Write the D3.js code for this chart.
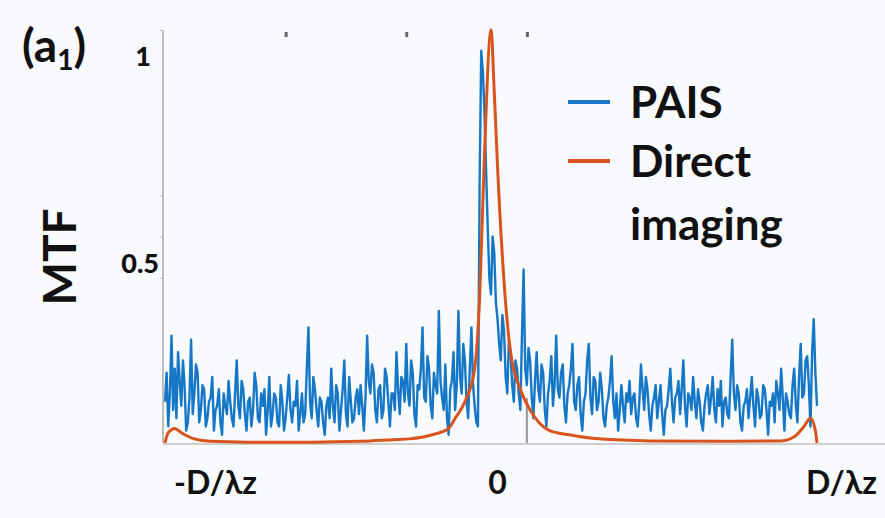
<!DOCTYPE html>
<html>
<head>
<meta charset="utf-8">
<script src="https://cdn.jsdelivr.net/npm/d3@7"></script>
<style>
    body { margin: 0; background: #f8fafd; }
    #floor { width: 885px; height: 518px; }
    text { font-family: Lato, "Open Sans", sans-serif; font-weight: 700; fill: #111; }
</style>
</head>
<body>
<div id="floor"></div>
<script>
// 横轴是采样序号 0..400，中心 200 对应频率 0
let tickIdx = [0, 200, 400];
let tickText = ["-D/\u03bbz", "0", "D/\u03bbz"];
let topTicks = [74, 148, 222];
let yTickVals = [0.4, 0.5, 0.6, 1];
let seriesNames = ["PAIS", "Direct imaging"];

// PAIS (蓝色) 每个采样点的 MTF
let pais = [
    0.10, 0.17, 0.04, 0.12, 0.26, 0.08, 0.18, 0.06, 0.22, 0.15, 0.09, 0.20, 0.14, 0.03, 0.05, 0.11, 0.25, 0.07, 0.12, 0.19,
    0.17, 0.05, 0.08, 0.14, 0.13, 0.04, 0.06, 0.10, 0.11, 0.16, 0.03, 0.08, 0.09, 0.13, 0.05, 0.02, 0.12, 0.09, 0.07, 0.15,
    0.10, 0.06, 0.04, 0.12, 0.20, 0.09, 0.06, 0.15, 0.13, 0.07, 0.03, 0.10, 0.11, 0.04, 0.08, 0.17, 0.14, 0.06, 0.05, 0.12,
    0.09, 0.13, 0.02, 0.08, 0.16, 0.04, 0.07, 0.12, 0.11, 0.05, 0.04, 0.14, 0.10, 0.03, 0.06, 0.11, 0.165, 0.08, 0.05, 0.10,
    0.09, 0.15, 0.03, 0.07, 0.12, 0.05, 0.07, 0.18, 0.28, 0.10, 0.06, 0.16, 0.13, 0.08, 0.04, 0.11, 0.10, 0.05, 0.02, 0.09,
    0.11, 0.06, 0.18, 0.09, 0.05, 0.14, 0.12, 0.03, 0.08, 0.13, 0.20, 0.07, 0.04, 0.16, 0.10, 0.05, 0.06, 0.11, 0.13, 0.07,
    0.14, 0.09, 0.03, 0.11, 0.26, 0.15, 0.12, 0.19, 0.17, 0.08, 0.05, 0.13, 0.14, 0.06, 0.08, 0.18, 0.16, 0.10, 0.04, 0.12,
    0.12, 0.08, 0.22, 0.13, 0.07, 0.16, 0.15, 0.10, 0.24, 0.12, 0.09, 0.20, 0.17, 0.07, 0.04, 0.14, 0.13, 0.18, 0.28, 0.11,
    0.10, 0.21, 0.18, 0.09, 0.06, 0.17, 0.14, 0.12, 0.32, 0.15, 0.11, 0.08, 0.19, 0.06, 0.02, 0.13, 0.15, 0.22, 0.08, 0.14,
    0.32, 0.16, 0.12, 0.24, 0.20, 0.10, 0.06, 0.18, 0.28, 0.14, 0.09, 0.05, 0.04, 0.62, 0.95, 0.90, 0.80, 0.66, 0.52, 0.40,
    0.36, 0.50, 0.46, 0.34, 0.30, 0.24, 0.20, 0.31, 0.27, 0.16, 0.12, 0.25, 0.22, 0.14, 0.10, 0.20, 0.18, 0.12, 0.08, 0.26,
    0.42, 0.18, 0.14, 0.23, 0.20, 0.11, 0.06, 0.15, 0.22, 0.13, 0.10, 0.19, 0.17, 0.08, 0.04, 0.12, 0.15, 0.21, 0.09, 0.14,
    0.26, 0.13, 0.11, 0.17, 0.19, 0.09, 0.05, 0.12, 0.14, 0.18, 0.24, 0.10, 0.08, 0.14, 0.16, 0.07, 0.03, 0.10, 0.12, 0.20,
    0.24, 0.11, 0.07, 0.16, 0.15, 0.08, 0.10, 0.17, 0.13, 0.06, 0.04, 0.09, 0.11, 0.15, 0.21, 0.10, 0.06, 0.12, 0.03, 0.08,
    0.14, 0.09, 0.05, 0.12, 0.10, 0.15, 0.07, 0.11, 0.12, 0.06, 0.04, 0.10, 0.19, 0.13, 0.08, 0.16, 0.13, 0.07, 0.03, 0.09,
    0.11, 0.14, 0.06, 0.10, 0.14, 0.07, 0.02, 0.08, 0.09, 0.13, 0.18, 0.10, 0.05, 0.11, 0.12, 0.15, 0.07, 0.13, 0.20, 0.09,
    0.04, 0.12, 0.11, 0.08, 0.16, 0.10, 0.06, 0.13, 0.10, 0.05, 0.03, 0.09, 0.12, 0.14, 0.07, 0.11, 0.16, 0.08, 0.05, 0.13,
    0.09, 0.15, 0.04, 0.10, 0.11, 0.07, 0.06, 0.16, 0.25, 0.12, 0.08, 0.14, 0.12, 0.05, 0.03, 0.09, 0.10, 0.13, 0.06, 0.11,
    0.16, 0.09, 0.04, 0.13, 0.11, 0.06, 0.07, 0.14, 0.13, 0.08, 0.02, 0.10, 0.09, 0.12, 0.05, 0.15, 0.12, 0.08, 0.18, 0.11,
    0.03, 0.12, 0.10, 0.07, 0.06, 0.14, 0.18, 0.09, 0.05, 0.16, 0.24, 0.11, 0.12, 0.20, 0.21, 0.14, 0.04, 0.22, 0.30, 0.17,
    0.09
];

// Direct imaging (橙色)，采样点较稀
let directIdx = [0, 2, 6, 10, 18, 28, 50, 90, 120, 140, 150, 164, 174, 178, 184, 190, 193, 196, 200,
    202, 204, 208, 212, 218, 224, 236, 248, 266, 298, 340, 378, 386, 392, 396, 399, 400];
let directVal = [0.0, 0.025, 0.035, 0.025, 0.01, 0.004, 0.002, 0.002, 0.004, 0.008, 0.01, 0.02, 0.035, 0.06, 0.10, 0.18, 0.35, 0.70, 1.0,
    0.85, 0.67, 0.39, 0.22, 0.13, 0.08, 0.03, 0.02, 0.01, 0.005, 0.004, 0.005, 0.015, 0.04, 0.06, 0.03, 0.0];

let width = 885;
let height = 518;
let colorScale = {"PAIS": "#1577c6", "Direct imaging": "#d9541c"};

let svg = d3.select("#floor").append("svg")
    .attr("width", width)
    .attr("height", height);

let x = d3.scaleLinear().domain([0, 400]).range([165, 817]);
let y = d3.scaleLinear().domain([0, 1]).range([443, 30]);

// 坐标轴
function drawAxes() {
    // 底部灰线
    svg.append("line")
        .attr("x1", 163).attr("x2", 885)
        .attr("y1", y(0) + 1).attr("y2", y(0) + 1)
        .attr("stroke", "#cfcfcf").attr("stroke-width", 2);

    let yAxis = svg.append("g")
        .attr("transform", "translate(163,0)")
        .call(d3.axisLeft(y).tickValues(yTickVals).tickSize(3)
            .tickFormat(d => (d === 0.5 || d === 1) ? d3.format("")(d) : ""));
    yAxis.select(".domain").attr("stroke", "#bdbdbd").attr("stroke-width", 2)
        .attr("d", "M0," + y(0) + "V" + y(1));
    yAxis.selectAll(".tick line").attr("stroke", "#bbb");
    yAxis.selectAll(".tick text")
        .style("font-size", "27px")
        .style("font-weight", 900)
        .attr("x", d => d === 1 ? -12 : -4)
        .attr("dy", d => d === 1 ? "1.3em" : "1.35em");

    let xAxis = svg.append("g")
        .attr("transform", "translate(0," + y(0) + ")")
        .call(d3.axisBottom(x).tickValues(tickIdx).tickSize(0)
            .tickFormat((d, i) => tickText[i]));
    xAxis.select(".domain").remove();
    xAxis.selectAll(".tick text")
        .style("font-size", "32px")
        .attr("y", 28)
        .attr("dy", "0.71em")
        .attr("dx", (d, i) => [50, 6, 24][i]);

    // 上方的小刻度点
    let topAxis = svg.append("g")
        .attr("transform", "translate(0,32)")
        .call(d3.axisBottom(x).tickValues(topTicks).tickSize(5).tickFormat(""));
    topAxis.select(".domain").remove();
    topAxis.selectAll(".tick line").attr("stroke", "#666").attr("stroke-width", 3);

    // 0 右侧底部的灰色刻度
    svg.append("line")
        .attr("x1", x(topTicks[2])).attr("x2", x(topTicks[2]))
        .attr("y1", y(0)).attr("y2", y(0) - 45)
        .attr("stroke", "#9a9a9a").attr("stroke-width", 2);

    svg.append("text")
        .attr("transform", "translate(76,257) rotate(-90)")
        .attr("text-anchor", "middle")
        .style("font-size", "46px")
        .text("MTF");

    let label = svg.append("text")
        .attr("x", 22).attr("y", 62)
        .style("font-size", "46px");
    label.append("tspan").text("(a");
    label.append("tspan").attr("dy", 8).style("font-size", "28px").text("1");
    label.append("tspan").attr("dy", -8).text(")");
}

// 曲线
function drawLines() {
    let line = d3.line()
        .x((d, i) => x(i))
        .y(d => y(d));

    svg.append("path")
        .datum(pais)
        .attr("fill", "none")
        .attr("stroke", colorScale["PAIS"])
        .attr("stroke-width", 2.4)
        .attr("stroke-linejoin", "round")
        .attr("d", line);

    let lineD = d3.line()
        .x((d, i) => x(directIdx[i]))
        .y(d => y(d))
        .curve(d3.curveMonotoneX);

    svg.append("path")
        .datum(directVal)
        .attr("fill", "none")
        .attr("stroke", colorScale["Direct imaging"])
        .attr("stroke-width", 3)
        .attr("d", lineD);
}

function drawLegend() {
    let lg = svg.append("g");
    let rows = [
        {name: seriesNames[0], lines: ["PAIS"], y: 102},
        {name: seriesNames[1], lines: ["Direct", "imaging"], y: 161}
    ];
    rows.forEach(r => {
        lg.append("line")
            .attr("x1", 568).attr("x2", 610)
            .attr("y1", r.y).attr("y2", r.y)
            .attr("stroke", colorScale[r.name])
            .attr("stroke-width", 4);
        r.lines.forEach((t, k) => {
            lg.append("text")
                .attr("x", 630)
                .attr("y", r.y + 16 + k * 63)
                .style("font-size", "44px")
                .text(t);
        });
    });
}

drawAxes();
drawLines();
drawLegend();
</script>
</body>
</html>
